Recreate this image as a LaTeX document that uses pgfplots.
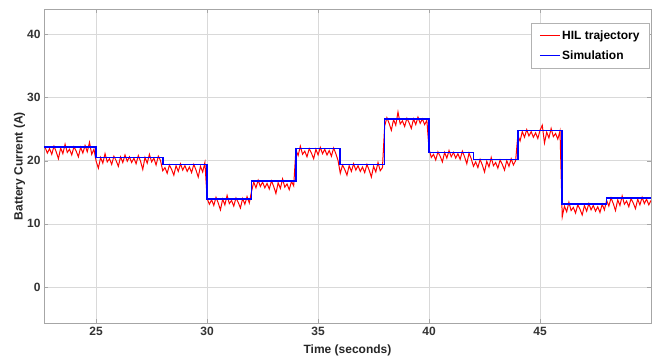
\documentclass[border=0pt]{standalone}
\usepackage{pgfplots}
\pgfplotsset{compat=1.18}
\usepackage{fontspec}
\setmainfont{Liberation Sans}

\pgfplotsset{
  hil legend/.style={legend image code/.code={\color{red}\draw[red, line width=0.8pt] (0pt,0pt) -- (20pt,0pt);}},
  sim legend/.style={legend image code/.code={\color{blue}\draw[blue, line width=0.9pt] (0pt,0pt) -- (20pt,0pt);}},
}

% Measured battery current (hardware-in-the-loop), sampled every 0.1 s
\pgfplotstableread{
t i
22.7 22.1
22.8 21.2
22.9 21.9
23.0 21.0
23.1 22.3
23.2 21.4
23.3 20.3
23.4 22.0
23.5 21.1
23.6 22.6
23.7 21.3
23.8 21.8
23.9 20.9
24.0 22.2
24.1 21.5
24.2 20.6
24.3 22.1
24.4 21.2
24.5 22.4
24.6 21.4
24.7 22.9
24.8 21.0
24.9 21.8
25.0 19.9
25.1 18.8
25.2 20.5
25.3 19.6
25.4 21.1
25.5 19.8
25.6 20.3
25.7 19.4
25.8 20.7
25.9 20.0
26.0 19.1
26.1 20.6
26.2 19.7
26.3 20.9
26.4 19.9
26.5 20.6
26.6 19.7
26.7 20.4
26.8 19.5
26.9 20.8
27.0 19.9
27.1 18.6
27.2 20.5
27.3 19.6
27.4 21.0
27.5 19.8
27.6 20.4
27.7 19.3
27.8 20.7
27.9 20.0
28.0 18.4
28.1 18.9
28.2 18.0
28.3 19.3
28.4 18.6
28.5 17.7
28.6 19.2
28.7 18.3
28.8 19.5
28.9 18.5
29.0 19.2
29.1 18.3
29.2 19.0
29.3 18.1
29.4 19.4
29.5 18.5
29.6 17.4
29.7 19.1
29.8 18.2
29.9 19.7
30.0 14.0
30.1 13.1
30.2 13.8
30.3 12.9
30.4 14.2
30.5 13.3
30.6 12.2
30.7 13.9
30.8 13.0
30.9 14.5
31.0 13.2
31.1 13.7
31.2 12.8
31.3 14.1
31.4 13.4
31.5 12.5
31.6 14.0
31.7 13.1
31.8 14.3
31.9 13.3
32.0 15.1
32.1 16.6
32.2 15.7
32.3 16.9
32.4 15.9
32.5 16.6
32.6 15.7
32.7 16.4
32.8 15.5
32.9 16.8
33.0 15.9
33.1 14.8
33.2 16.5
33.3 15.6
33.4 17.1
33.5 15.8
33.6 16.3
33.7 15.4
33.8 16.7
33.9 16.0
34.0 21.7
34.1 20.8
34.2 22.3
34.3 21.0
34.4 21.5
34.5 20.6
34.6 21.9
34.7 21.2
34.8 20.3
34.9 21.8
35.0 20.9
35.1 22.1
35.2 21.1
35.3 21.8
35.4 20.9
35.5 21.6
35.6 20.7
35.7 22.0
35.8 21.1
35.9 20.0
36.0 18.0
36.1 19.3
36.2 18.6
36.3 17.7
36.4 19.2
36.5 18.3
36.6 19.5
36.7 18.5
36.8 19.2
36.9 18.3
37.0 19.0
37.1 18.1
37.2 19.4
37.3 18.5
37.4 17.4
37.5 19.1
37.6 18.2
37.7 19.7
37.8 18.4
37.9 18.9
38.0 25.5
38.1 26.8
38.2 25.9
38.3 24.8
38.4 26.5
38.5 25.6
38.6 27.7
38.7 25.8
38.8 26.3
38.9 25.4
39.0 26.7
39.1 26.0
39.2 25.1
39.3 26.6
39.4 25.7
39.5 26.9
39.6 25.9
39.7 26.6
39.8 25.7
39.9 26.4
40.0 21.8
40.1 20.5
40.2 21.0
40.3 20.1
40.4 21.4
40.5 20.7
40.6 19.8
40.7 21.3
40.8 20.4
40.9 21.6
41.0 20.6
41.1 21.3
41.2 20.4
41.3 21.1
41.4 20.2
41.5 21.5
41.6 20.6
41.7 19.5
41.8 21.2
41.9 20.3
42.0 19.1
42.1 19.8
42.2 18.9
42.3 20.2
42.4 19.3
42.5 18.2
42.6 19.9
42.7 19.0
42.8 20.5
42.9 19.2
43.0 19.7
43.1 18.8
43.2 20.1
43.3 19.4
43.4 18.5
43.5 20.0
43.6 19.1
43.7 20.3
43.8 19.3
43.9 20.0
44.0 24.0
44.1 23.1
44.2 24.6
44.3 23.7
44.4 24.9
44.5 23.9
44.6 24.6
44.7 23.7
44.8 24.4
44.9 23.5
45.0 24.8
45.1 25.6
45.2 22.8
45.3 24.5
45.4 23.6
45.5 25.1
45.6 23.8
45.7 24.3
45.8 23.4
45.9 24.7
46.0 11.1
46.1 12.8
46.2 11.9
46.3 13.4
46.4 12.1
46.5 12.6
46.6 11.7
46.7 13.0
46.8 12.3
46.9 11.4
47.0 12.9
47.1 12.0
47.2 13.2
47.3 12.2
47.4 12.9
47.5 12.0
47.6 12.7
47.7 11.8
47.8 13.1
47.9 12.2
48.0 13.7
48.1 12.8
48.2 14.1
48.3 13.2
48.4 12.1
48.5 13.8
48.6 12.9
48.7 14.4
48.8 13.1
48.9 13.6
49.0 12.7
49.1 14.0
49.2 13.3
49.3 12.4
49.4 13.9
49.5 13.0
49.6 14.2
49.7 13.2
49.8 13.9
49.9 13.0
50.0 13.7
}\hiltable

% Simulated battery current: constant levels, each step written as two corners
\pgfplotstableread{
t i
22.65 22.2
25.0 22.2
25.0 20.5
28.0 20.5
28.0 19.4
30.0 19.4
30.0 13.9
32.0 13.9
32.0 16.8
34.0 16.8
34.0 21.9
36.0 21.9
36.0 19.4
38.0 19.4
38.0 26.6
40.0 26.6
40.0 21.3
42.0 21.3
42.0 20.2
44.0 20.2
44.0 24.8
46.0 24.8
46.0 13.1
48.0 13.1
48.0 14.1
50.0 14.1
}\simtable

\begin{document}
\begin{tikzpicture}
\begin{axis}[
  scale only axis,
  width=607pt, height=314pt,
  xmin=22.65, xmax=50,
  ymin=-5.7, ymax=44,
  xtick={25,30,35,40,45},
  ytick={0,10,20,30,40},
  grid=major,
  major grid style={gray!30, line width=0.6pt},
  axis line style={gray!70, line width=0.7pt},
  tick style={gray!70},
  tick align=inside,
  major tick length=4pt,
  /pgf/number format/assume math mode=true,
  ticklabel style={font=\fontsize{12}{14}\selectfont\bfseries, text=black!80},
  xticklabel style={yshift=-1pt},
  xlabel={Time (seconds)},
  ylabel={Battery Current (A)},
  label style={font=\fontsize{12}{14}\selectfont\bfseries, text=black!85},
  xlabel style={at={(axis description cs:0.5,-0.086)}, anchor=center},
  ylabel style={at={(axis description cs:-0.0404,0.5)}, anchor=center},
  legend style={at={(0.998,0.955)}, anchor=north east,
    draw=gray!60, fill=white,
    font=\fontsize{12}{14}\selectfont\bfseries,
    row sep=6pt, inner xsep=8pt, inner ysep=5pt},
  legend cell align=left,
]
\addlegendimage{hil legend}
\addlegendentry{HIL trajectory}
\addlegendimage{sim legend}
\addlegendentry{Simulation}
\addplot[red, line width=1pt, forget plot] table[x=t, y=i] {\hiltable};
\addplot[blue, line width=1.6pt, forget plot] table[x=t, y=i] {\simtable};
\coordinate (sw) at (rel axis cs:0,0);
\coordinate (ne) at (rel axis cs:1,1);
\end{axis}
\pgfresetboundingbox
\path ([shift={(-44pt,-34pt)}]sw) rectangle ([shift={(17pt,9pt)}]ne);
\end{tikzpicture}
\end{document}
